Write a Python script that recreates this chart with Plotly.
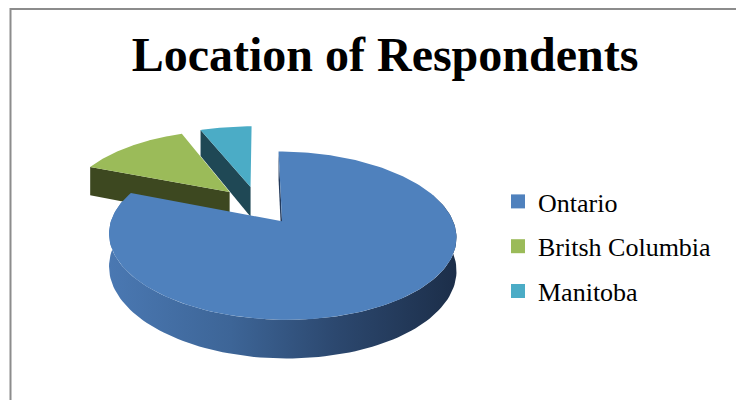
import numpy as np
import plotly.graph_objects as go

# Survey data: share of respondents by province (%)
categories = ["Ontario", "Britsh Columbia", "Manitoba"]
shares = [81, 13, 6]

top_colors = ["#4F81BD", "#9BBB59", "#4BACC6"]
cut_colors = ["#233a5c", "#3d4820", "#1f4855"]
side_scale = [[0.0, "#4a78b2"], [0.35, "#3d6597"], [0.65, "#2c486f"], [1.0, "#1c2e49"]]

# 3D pie geometry (pixel space of a 736x400 canvas)
CX, CY = 258.0, 205.0      # projected centre of the un-exploded pie
SX, SY = 165.3, 76.2       # horizontal radius / vertical squash
PERSP = 0.165              # perspective strength
DEPTH = 31.0               # thickness of the pie
EXPLODE = 0.25             # explode distance (fraction of radius)


def project(wx, wy, z=0.0):
    w = 1.0 / (1.0 + PERSP * wy)
    return CX + SX * wx * w, CY - SY * wy * w + DEPTH * z * w


def rim(off, phi_deg, z=0.0):
    p = np.radians(phi_deg)
    return project(off[0] + np.sin(p), off[1] + np.cos(p), z)


total = float(sum(shares))
bounds = np.concatenate([[0.0], np.cumsum(shares) / total * 360.0])

slices = []
for i, name in enumerate(categories):
    a0, a1 = bounds[i], bounds[i + 1]
    mid = np.radians((a0 + a1) / 2)
    off = (EXPLODE * np.sin(mid), EXPLODE * np.cos(mid))
    slices.append(dict(i=i, a0=a0, a1=a1, off=off, depth=np.cos(mid)))

# paint far slices first
slices.sort(key=lambda s: -s["depth"])

fig = go.Figure()


def poly(xs, ys, color, gradient=None):
    xs = list(xs) + [xs[0]]
    ys = list(ys) + [ys[0]]
    kw = dict(fillcolor=color)
    if gradient is not None:
        kw = dict(fillgradient=dict(type="horizontal", colorscale=gradient))
    fig.add_trace(go.Scatter(x=xs, y=ys, mode="lines", fill="toself",
                             line=dict(width=0, color=color), hoverinfo="skip",
                             showlegend=False, **kw))


for s in slices:
    i, a0, a1, off = s["i"], s["a0"], s["a1"], s["off"]
    ax_t = project(off[0], off[1], 0.0)
    ax_b = project(off[0], off[1], 1.0)

    # cut face along the leading edge (visible when it faces the viewer)
    if np.cos(np.radians(a0 - 90)) <= 0.01:
        rt = rim(off, a0, 0.0)
        rb = rim(off, a0, 1.0)
        poly([ax_t[0], rt[0], rb[0], ax_b[0]], [ax_t[1], rt[1], rb[1], ax_b[1]], cut_colors[i])

    # outer wall on the near half of the pie
    lo, hi = max(a0, 70.0), min(a1, 285.0)
    if hi > lo:
        ph = np.linspace(lo, hi, 120)
        tx, ty = rim(off, ph, 0.0)
        bx, by = rim(off, ph[::-1], 1.0)
        poly(np.concatenate([tx, bx]), np.concatenate([ty, by]), cut_colors[i], gradient=side_scale)

    # top face
    ph = np.linspace(a0, a1, 200)
    tx, ty = rim(off, ph, 0.0)
    poly(np.concatenate([[ax_t[0]], tx]), np.concatenate([[ax_t[1]], ty]), top_colors[i])

# legend entries
for i, name in enumerate(categories):
    fig.add_trace(go.Scatter(x=[None], y=[None], mode="markers", name=name,
                             legendgroup=name,
                             marker=dict(symbol="square", size=14, color=top_colors[i])))

fig.update_layout(
    width=736, height=400,
    margin=dict(l=0, r=0, t=0, b=0),
    paper_bgcolor="white", plot_bgcolor="white",
    xaxis=dict(range=[0, 736], visible=False, fixedrange=True),
    yaxis=dict(range=[400, 0], visible=False, fixedrange=True),
    title=dict(text="<b>Location of Respondents</b>", x=385 / 736, xanchor="center",
               y=1 - 54 / 400, yanchor="middle",
               font=dict(family="Liberation Serif", size=48, color="black")),
    legend=dict(x=498 / 736, xanchor="left", y=1 - 178 / 400, yanchor="top",
                font=dict(family="Liberation Serif", size=26, color="black"),
                tracegroupgap=8, bgcolor="rgba(0,0,0,0)", itemwidth=30),
    shapes=[
        dict(type="line", xref="paper", yref="paper", x0=10.5 / 736, x1=10.5 / 736,
             y0=0, y1=1 - 8 / 400, line=dict(color="#8c8c8c", width=2)),
        dict(type="line", xref="paper", yref="paper", x0=10 / 736, x1=1,
             y0=1 - 9 / 400, y1=1 - 9 / 400, line=dict(color="#8c8c8c", width=2)),
    ],
)

fig.write_html("out.html")
